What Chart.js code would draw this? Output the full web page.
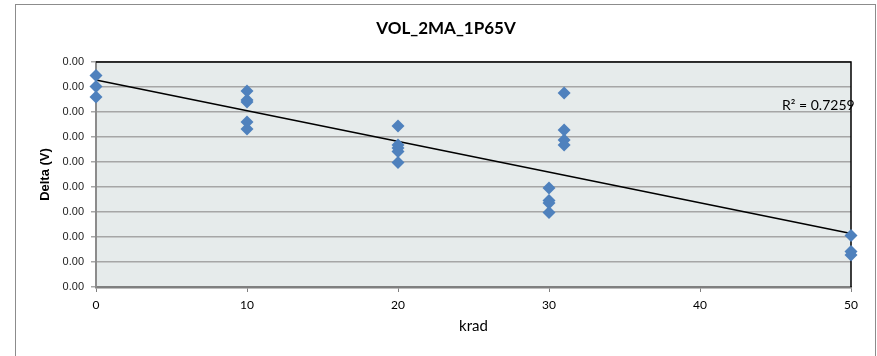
<!DOCTYPE html>
<html>
<head>
<meta charset="utf-8">
<title>VOL_2MA_1P65V</title>
<script src="https://cdn.jsdelivr.net/npm/chart.js@4"></script>
<style>
  html, body { margin: 0; padding: 0; background: #fff; }
  #wrap { width: 877px; height: 356px; }
</style>
</head>
<body>
<div id="wrap"><canvas id="deltaChart" width="877" height="356"></canvas></div>
<script>
const chartTitle = "VOL_2MA_1P65V";
const doseKrad = [0, 0, 0,
  10, 10, 10, 10, 10,
  20, 20, 20, 20, 20,
  30, 30, 30, 30,
  31, 31, 31, 31,
  50, 50, 50];
const deltaVolts = [0.00423, 0.00401, 0.00380,
  0.00392, 0.00374, 0.00370, 0.00330, 0.00316,
  0.00322, 0.00284, 0.00278, 0.00271, 0.00249,
  0.00198, 0.00173, 0.00168, 0.00149,
  0.00388, 0.00314, 0.00294, 0.00284,
  0.00103, 0.00071, 0.00064];
const rSquaredText = "R² = 0.7259";
const xTicks = [0, 10, 20, 30, 40, 50];
const yMin = 0, yMax = 0.0045, yStep = 0.0005;

// least squares fit for the trendline
function linearFit(xs, ys) {
  const n = xs.length;
  let sx = 0, sy = 0, sxy = 0, sxx = 0;
  for (let i = 0; i < n; i++) {
    sx += xs[i]; sy += ys[i]; sxy += xs[i] * ys[i]; sxx += xs[i] * xs[i];
  }
  const slope = (n * sxy - sx * sy) / (n * sxx - sx * sx);
  return { slope: slope, intercept: (sy - slope * sx) / n };
}
const fit = linearFit(doseKrad, deltaVolts);
const xFirst = xTicks[0], xLast = xTicks[xTicks.length - 1];

const points = doseKrad.map((x, i) => ({ x: x, y: deltaVolts[i] }));
const trend = [
  { x: xFirst, y: fit.intercept + fit.slope * xFirst },
  { x: xLast, y: fit.intercept + fit.slope * xLast }
];

const chartDecor = {
  id: "chartDecor",
  beforeDraw(chart) {
    const { ctx, chartArea: a } = chart;
    ctx.save();
    // outer frame
    ctx.strokeStyle = "#8c8c8c";
    ctx.lineWidth = 1;
    ctx.strokeRect(15.5, 4.5, 860, 360);
    // plot background
    ctx.fillStyle = "#e6ebeb";
    ctx.fillRect(a.left, a.top, a.right - a.left, a.bottom - a.top);
    // title
    ctx.fillStyle = "#000";
    ctx.font = "bold 17px Lato";
    ctx.textAlign = "center";
    ctx.textBaseline = "middle";
    ctx.fillText(chartTitle, 446, 29);
    ctx.restore();
  },
  beforeDatasetsDraw(chart) {
    const { ctx, chartArea: a } = chart;
    ctx.save();
    ctx.strokeStyle = "#000";
    ctx.lineWidth = 1.5;
    ctx.beginPath();
    ctx.moveTo(a.left, a.top);
    ctx.lineTo(a.right, a.top);
    ctx.lineTo(a.right, a.bottom);
    ctx.stroke();
    ctx.restore();
  },
  afterDatasetsDraw(chart) {
    const { ctx, chartArea: a } = chart;
    ctx.save();
    ctx.fillStyle = "#000";
    ctx.font = "14px Lato";
    ctx.textAlign = "left";
    ctx.textBaseline = "middle";
    ctx.fillText(rSquaredText, a.right - 69, 105);
    ctx.restore();
  }
};

new Chart(document.getElementById("deltaChart").getContext("2d"), {
  type: "scatter",
  data: {
    datasets: [
      {
        label: "Delta",
        data: points,
        pointStyle: "rectRot",
        pointRadius: 6.5,
        pointHoverRadius: 6.5,
        pointBorderWidth: 0,
        backgroundColor: "#4f81bd",
        borderColor: "#4f81bd",
        clip: false,
        order: 1
      },
      {
        type: "line",
        label: "Trend",
        data: trend,
        borderColor: "#000",
        borderWidth: 1.5,
        pointRadius: 0,
        fill: false,
        clip: false,
        order: 2
      }
    ]
  },
  plugins: [chartDecor],
  options: {
    responsive: false,
    animation: false,
    events: [],
    layout: { padding: { left: 20, top: 62, right: 26, bottom: 0 } },
    plugins: {
      legend: { display: false },
      tooltip: { enabled: false },
      title: { display: false }
    },
    scales: {
      x: {
        type: "linear",
        min: xFirst,
        max: xLast,
        afterBuildTicks: s => { s.ticks = xTicks.map(v => ({ value: v })); },
        afterFit: s => { s.height = 69; },
        border: { color: "#7f7f7f", width: 2.5 },
        grid: { drawOnChartArea: false, drawTicks: true, tickLength: 5, color: "#7f7f7f" },
        ticks: { font: { family: "Lato", size: 12 }, color: "#000", padding: 6, maxRotation: 0 },
        title: {
          display: true,
          text: "krad",
          font: { family: "Lato", size: 15 },
          color: "#000",
          padding: { top: 0, bottom: 21 }
        }
      },
      y: {
        min: yMin,
        max: yMax,
        afterFit: s => { s.width = 76; },
        border: { color: "#8c8c8c", width: 2 },
        grid: { color: "#a6a6a6", lineWidth: 1.5, tickLength: 5, drawTicks: true },
        ticks: {
          stepSize: yStep,
          font: { family: "Liberation Sans", size: 11 },
          color: "#222",
          padding: 7,
          callback: v => v.toFixed(2)
        },
        title: {
          display: true,
          text: "Delta (V)",
          font: { family: "Liberation Sans", size: 13, weight: "bold" },
          color: "#000",
          padding: { top: 18, bottom: 0 }
        }
      }
    }
  }
});
</script>
</body>
</html>
